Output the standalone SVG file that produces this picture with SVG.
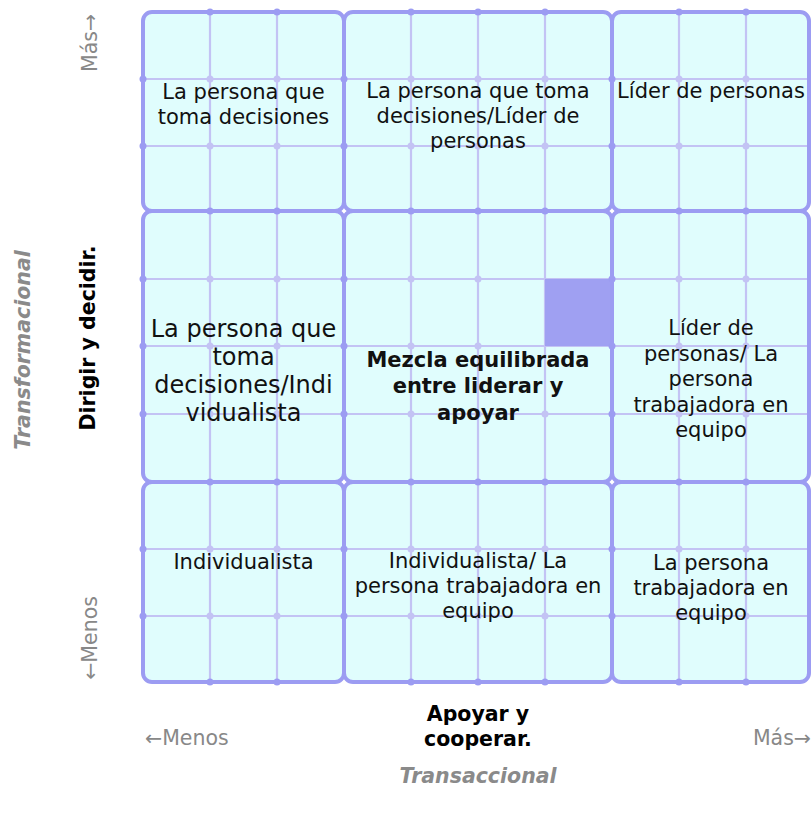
<svg xmlns="http://www.w3.org/2000/svg" width="811" height="816" viewBox="0 0 811 816">
<style>
.bg{fill:#e0fdfd;stroke:#9c9cf2;stroke-width:4}
.thin{fill:none;stroke:#c3c3f4;stroke-width:2.2}
.d{fill:#c3c3f4}
.b{fill:#9c9cf2}
.t{font-family:"DejaVu Sans",Verdana,sans-serif;font-size:21px;fill:#111;text-anchor:middle}
.big{font-size:24px}
.bold{font-weight:bold}
.ax{font-family:"DejaVu Sans",Verdana,sans-serif;font-size:20.5px;fill:#888}
.axb{font-family:"DejaVu Sans",Verdana,sans-serif;font-size:20.5px;font-weight:bold;fill:#000;text-anchor:middle}
.axi{font-family:"DejaVu Sans",Verdana,sans-serif;font-size:20.5px;font-weight:bold;font-style:italic;fill:#8a8a8a;text-anchor:middle}
</style>
<rect width="811" height="816" fill="#fff"/>

<g id="cell-tl">
<rect class="bg" x="143" y="12" width="201" height="199" rx="9"/>
<path class="thin" d="M210 14V209M277 14V209M145 79H342M145 146H342"/>
<circle class="d" cx="210" cy="79" r="3.5"/><circle class="d" cx="277" cy="79" r="3.5"/><circle class="d" cx="210" cy="146" r="3.5"/><circle class="d" cx="277" cy="146" r="3.5"/>
<text class="t" x="243.5" y="99">La persona que</text>
<text class="t" x="243.5" y="124">toma decisiones</text>
</g>

<g id="cell-tm">
<rect class="bg" x="344" y="12" width="268" height="199" rx="9"/>
<path class="thin" d="M411 14V209M478 14V209M545 14V209M346 79H610M346 146H610"/>
<circle class="d" cx="411" cy="79" r="3.5"/><circle class="d" cx="478" cy="79" r="3.5"/><circle class="d" cx="545" cy="79" r="3.5"/><circle class="d" cx="411" cy="146" r="3.5"/><circle class="d" cx="478" cy="146" r="3.5"/><circle class="d" cx="545" cy="146" r="3.5"/>
<text class="t" x="478" y="98">La persona que toma</text>
<text class="t" x="478" y="123">decisiones/Líder de</text>
<text class="t" x="478" y="148">personas</text>
</g>

<g id="cell-tr">
<rect class="bg" x="612" y="12" width="197" height="199" rx="9"/>
<path class="thin" d="M679 14V209M746 14V209M614 79H807M614 146H807"/>
<circle class="d" cx="679" cy="79" r="3.5"/><circle class="d" cx="746" cy="79" r="3.5"/><circle class="d" cx="679" cy="146" r="3.5"/><circle class="d" cx="746" cy="146" r="3.5"/>
<text class="t" x="711" y="98">Líder de personas</text>
</g>

<g id="cell-ml">
<rect class="bg" x="143" y="211" width="201" height="271" rx="9"/>
<path class="thin" d="M210 213V480M277 213V480M145 279H342M145 346H342M145 414H342"/>
<circle class="d" cx="210" cy="279" r="3.5"/><circle class="d" cx="277" cy="279" r="3.5"/><circle class="d" cx="210" cy="346" r="3.5"/><circle class="d" cx="277" cy="346" r="3.5"/><circle class="d" cx="210" cy="414" r="3.5"/><circle class="d" cx="277" cy="414" r="3.5"/>
<text class="t big" x="243.5" y="337">La persona que</text>
<text class="t big" x="243.5" y="365">toma</text>
<text class="t big" x="243.5" y="393">decisiones/Indi</text>
<text class="t big" x="243.5" y="421">vidualista</text>
</g>

<g id="cell-mm">
<rect class="bg" x="344" y="211" width="268" height="271" rx="9"/>
<path class="thin" d="M411 213V480M478 213V480M545 213V480M346 279H610M346 346H610M346 414H610"/>
<circle class="d" cx="411" cy="279" r="3.5"/><circle class="d" cx="478" cy="279" r="3.5"/><circle class="d" cx="411" cy="346" r="3.5"/><circle class="d" cx="478" cy="346" r="3.5"/><circle class="d" cx="411" cy="414" r="3.5"/><circle class="d" cx="478" cy="414" r="3.5"/><circle class="d" cx="545" cy="414" r="3.5"/>
<rect x="545" y="279" width="67" height="67" fill="#9fa0f2"/>
<text class="t bold" x="478" y="367">Mezcla equilibrada</text>
<text class="t bold" x="478" y="393">entre liderar y</text>
<text class="t bold" x="478" y="420">apoyar</text>
</g>

<g id="cell-mr">
<rect class="bg" x="612" y="211" width="197" height="271" rx="9"/>
<path class="thin" d="M679 213V480M746 213V480M614 279H807M614 346H807M614 414H807"/>
<circle class="d" cx="679" cy="279" r="3.5"/><circle class="d" cx="746" cy="279" r="3.5"/><circle class="d" cx="679" cy="346" r="3.5"/><circle class="d" cx="746" cy="346" r="3.5"/><circle class="d" cx="679" cy="414" r="3.5"/><circle class="d" cx="746" cy="414" r="3.5"/>
<text class="t" x="711" y="335">Líder de</text>
<text class="t" x="711" y="360.5">personas/ La</text>
<text class="t" x="711" y="386">persona</text>
<text class="t" x="711" y="411.5">trabajadora en</text>
<text class="t" x="711" y="437">equipo</text>
</g>

<g id="cell-bl">
<rect class="bg" x="143" y="482" width="201" height="200" rx="9"/>
<path class="thin" d="M210 484V680M277 484V680M145 549H342M145 616H342"/>
<circle class="d" cx="210" cy="549" r="3.5"/><circle class="d" cx="277" cy="549" r="3.5"/><circle class="d" cx="210" cy="616" r="3.5"/><circle class="d" cx="277" cy="616" r="3.5"/>
<text class="t" x="243.5" y="569">Individualista</text>
</g>

<g id="cell-bm">
<rect class="bg" x="344" y="482" width="268" height="200" rx="9"/>
<path class="thin" d="M411 484V680M478 484V680M545 484V680M346 549H610M346 616H610"/>
<circle class="d" cx="411" cy="549" r="3.5"/><circle class="d" cx="478" cy="549" r="3.5"/><circle class="d" cx="545" cy="549" r="3.5"/><circle class="d" cx="411" cy="616" r="3.5"/><circle class="d" cx="478" cy="616" r="3.5"/><circle class="d" cx="545" cy="616" r="3.5"/>
<text class="t" x="478" y="568">Individualista/ La</text>
<text class="t" x="478" y="593">persona trabajadora en</text>
<text class="t" x="478" y="618">equipo</text>
</g>

<g id="cell-br">
<rect class="bg" x="612" y="482" width="197" height="200" rx="9"/>
<path class="thin" d="M679 484V680M746 484V680M614 549H807M614 616H807"/>
<circle class="d" cx="679" cy="549" r="3.5"/><circle class="d" cx="746" cy="549" r="3.5"/><circle class="d" cx="679" cy="616" r="3.5"/><circle class="d" cx="746" cy="616" r="3.5"/>
<text class="t" x="711" y="570">La persona</text>
<text class="t" x="711" y="595">trabajadora en</text>
<text class="t" x="711" y="620">equipo</text>
</g>

<g id="border-bumps">
<circle class="b" cx="143" cy="79" r="3.5"/><circle class="b" cx="143" cy="146" r="3.5"/><circle class="b" cx="143" cy="279" r="3.5"/><circle class="b" cx="143" cy="346" r="3.5"/><circle class="b" cx="143" cy="414" r="3.5"/><circle class="b" cx="143" cy="549" r="3.5"/><circle class="b" cx="143" cy="616" r="3.5"/>
<circle class="b" cx="344" cy="79" r="3.5"/><circle class="b" cx="344" cy="146" r="3.5"/><circle class="b" cx="344" cy="279" r="3.5"/><circle class="b" cx="344" cy="346" r="3.5"/><circle class="b" cx="344" cy="414" r="3.5"/><circle class="b" cx="344" cy="549" r="3.5"/><circle class="b" cx="344" cy="616" r="3.5"/>
<circle class="b" cx="612" cy="79" r="3.5"/><circle class="b" cx="612" cy="146" r="3.5"/><circle class="b" cx="612" cy="279" r="3.5"/><circle class="b" cx="612" cy="346" r="3.5"/><circle class="b" cx="612" cy="414" r="3.5"/><circle class="b" cx="612" cy="549" r="3.5"/><circle class="b" cx="612" cy="616" r="3.5"/>
<circle class="b" cx="210" cy="12" r="3.5"/><circle class="b" cx="277" cy="12" r="3.5"/><circle class="b" cx="411" cy="12" r="3.5"/><circle class="b" cx="478" cy="12" r="3.5"/><circle class="b" cx="545" cy="12" r="3.5"/><circle class="b" cx="679" cy="12" r="3.5"/><circle class="b" cx="746" cy="12" r="3.5"/>
<circle class="b" cx="210" cy="211" r="3.5"/><circle class="b" cx="277" cy="211" r="3.5"/><circle class="b" cx="411" cy="211" r="3.5"/><circle class="b" cx="478" cy="211" r="3.5"/><circle class="b" cx="545" cy="211" r="3.5"/><circle class="b" cx="679" cy="211" r="3.5"/><circle class="b" cx="746" cy="211" r="3.5"/>
<circle class="b" cx="210" cy="482" r="3.5"/><circle class="b" cx="277" cy="482" r="3.5"/><circle class="b" cx="411" cy="482" r="3.5"/><circle class="b" cx="478" cy="482" r="3.5"/><circle class="b" cx="545" cy="482" r="3.5"/><circle class="b" cx="679" cy="482" r="3.5"/><circle class="b" cx="746" cy="482" r="3.5"/>
<circle class="b" cx="210" cy="682" r="3.5"/><circle class="b" cx="277" cy="682" r="3.5"/><circle class="b" cx="411" cy="682" r="3.5"/><circle class="b" cx="478" cy="682" r="3.5"/><circle class="b" cx="545" cy="682" r="3.5"/><circle class="b" cx="679" cy="682" r="3.5"/><circle class="b" cx="746" cy="682" r="3.5"/>
</g>

<g id="axis-y">
<text class="ax" transform="translate(97,43) rotate(-90)" text-anchor="middle">Más→</text>
<text class="ax" transform="translate(97,638) rotate(-90)" text-anchor="middle">←Menos</text>
<text class="axb" transform="translate(95,338) rotate(-90)">Dirigir y decidir.</text>
<text class="axi" transform="translate(30,350) rotate(-90)">Transformacional</text>
</g>

<g id="axis-x">
<text class="ax" x="145" y="745">←Menos</text>
<text class="ax" x="811" y="745" text-anchor="end">Más→</text>
<text class="axb" x="478" y="721">Apoyar y</text>
<text class="axb" x="478" y="746">cooperar.</text>
<text class="axi" x="478" y="783">Transaccional</text>
</g>
</svg>
